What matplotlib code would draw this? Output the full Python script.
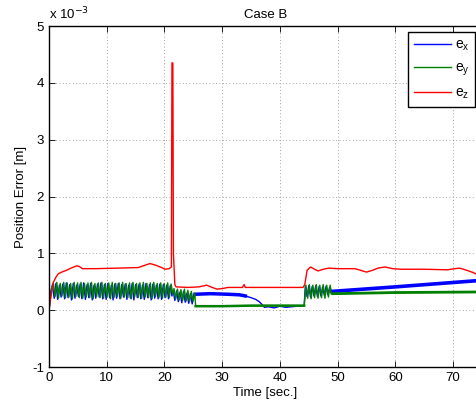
import numpy as np
import matplotlib
matplotlib.use('Agg')
import matplotlib.pyplot as plt
from matplotlib.ticker import FuncFormatter

# values are in units of 1e-3 m
ex_t_start = [0.0, 0.3]
ex_v_start = [0.0, 0.32]
ex_osc1 = [0.45, 0.21, 0.47, 0.19, 0.44, 0.23, 0.46, 0.20, 0.48, 0.22,
           0.45, 0.18, 0.47, 0.21, 0.44, 0.24, 0.46, 0.20, 0.48, 0.19,
           0.45, 0.22, 0.47, 0.18, 0.44, 0.21, 0.46, 0.23, 0.48, 0.20,
           0.45, 0.19, 0.47, 0.22, 0.44, 0.18, 0.46, 0.21, 0.47, 0.20,
           0.45, 0.23, 0.46, 0.19, 0.44, 0.21, 0.47, 0.18, 0.45, 0.22,
           0.46, 0.20, 0.44, 0.19, 0.47, 0.22, 0.45, 0.18, 0.46, 0.21,
           0.44, 0.20, 0.46, 0.19, 0.45, 0.22, 0.44, 0.20, 0.43, 0.25]
ex_osc2 = [0.35, 0.17, 0.34, 0.15, 0.32, 0.13, 0.33, 0.14, 0.30, 0.12,
           0.29, 0.11, 0.28]
ex_t_mid = [25.3, 28.0, 31.0, 33.0, 34.0, 35.0, 35.8, 36.4, 36.9, 37.3,
            38.0, 39.0, 40.0, 41.0, 42.0, 43.0, 44.2]
ex_v_mid = [0.28, 0.29, 0.28, 0.27, 0.25, 0.22, 0.19, 0.15, 0.10, 0.05,
            0.06, 0.04, 0.07, 0.05, 0.06, 0.07, 0.08]
ex_osc3 = [0.42, 0.24, 0.43, 0.23, 0.42, 0.25, 0.43, 0.24, 0.42, 0.25,
           0.41, 0.26, 0.42, 0.27, 0.40]
ex_t_end = [49.0, 60.0, 74.3]
ex_v_end = [0.33, 0.41, 0.52]

ey_t_start = [0.0, 0.45]
ey_v_start = [0.0, 0.38]
ey_osc1 = [0.48, 0.24, 0.49, 0.21, 0.47, 0.25, 0.49, 0.22, 0.48, 0.23,
           0.47, 0.20, 0.49, 0.24, 0.48, 0.22, 0.49, 0.21, 0.47, 0.23,
           0.48, 0.22, 0.49, 0.20, 0.47, 0.24, 0.48, 0.22, 0.49, 0.21,
           0.47, 0.23, 0.48, 0.20, 0.49, 0.22, 0.47, 0.24, 0.48, 0.21,
           0.49, 0.23, 0.47, 0.22, 0.48, 0.20, 0.49, 0.24, 0.47, 0.22,
           0.48, 0.21, 0.49, 0.23, 0.47, 0.22, 0.48, 0.20, 0.49, 0.24,
           0.47, 0.22, 0.48, 0.21, 0.47, 0.23, 0.48, 0.22, 0.46, 0.28]
ey_osc2 = [0.38, 0.20, 0.37, 0.18, 0.36, 0.17, 0.37, 0.16, 0.35, 0.15,
           0.33, 0.16, 0.30]
ey_t_mid = [25.4, 30.0, 35.0, 40.0, 44.2]
ey_v_mid = [0.07, 0.07, 0.08, 0.08, 0.08]
ey_osc3 = [0.44, 0.21, 0.45, 0.20, 0.44, 0.22, 0.45, 0.21, 0.44, 0.22,
           0.45, 0.21, 0.44, 0.23, 0.44]
ey_t_end = [48.9, 49.2, 60.0, 74.3]
ey_v_end = [0.28, 0.29, 0.31, 0.32]

ez_t = [0.0, 0.3, 0.75, 1.2, 1.6, 2.2, 3.0, 3.8, 4.8, 5.2, 5.8, 8.0, 12.0,
        15.5, 16.3, 17.5, 18.5, 19.5, 20.1, 20.8, 21.2, 21.3, 21.45, 21.55,
        21.8, 22.0, 24.0, 26.0, 27.3, 28.0, 29.1, 30.0, 31.0, 33.5, 33.8,
        34.0, 36.0, 40.0, 44.0, 44.3, 44.7, 45.3, 46.0, 46.6, 47.5, 48.5,
        50.0, 53.0, 54.0, 55.0, 56.0, 57.0, 58.2, 59.5, 61.0, 65.0, 69.0,
        70.3, 71.1, 71.8, 72.7, 73.5, 74.3]
ez_v = [0.0, 0.22, 0.49, 0.58, 0.64, 0.67, 0.70, 0.74, 0.78, 0.77, 0.73,
        0.73, 0.74, 0.75, 0.78, 0.82, 0.79, 0.75, 0.72, 0.73, 0.76, 4.35,
        4.35, 1.0, 0.45, 0.41, 0.40, 0.41, 0.44, 0.41, 0.37, 0.38, 0.40,
        0.40, 0.45, 0.40, 0.40, 0.40, 0.40, 0.45, 0.70, 0.76, 0.72, 0.69,
        0.72, 0.74, 0.73, 0.73, 0.70, 0.67, 0.70, 0.74, 0.76, 0.73, 0.72,
        0.72, 0.71, 0.73, 0.74, 0.72, 0.69, 0.66, 0.62]

# sample grids of the oscillating stretches
t_osc1_x = np.arange(0.6, 21.35, 0.3)
t_osc1_y = t_osc1_x + 0.15
t_osc2_x = np.arange(21.5, 25.15, 0.3)
t_osc2_y = t_osc2_x + 0.15
t_osc3_x = np.arange(44.4, 48.85, 0.3)
t_osc3_y = t_osc3_x + 0.1

ex_t = np.concatenate([ex_t_start, t_osc1_x, t_osc2_x, ex_t_mid, t_osc3_x, ex_t_end])
ex_v = np.concatenate([ex_v_start, ex_osc1, ex_osc2, ex_v_mid, ex_osc3, ex_v_end])
ey_t = np.concatenate([ey_t_start, t_osc1_y, t_osc2_y, ey_t_mid, t_osc3_y, ey_t_end])
ey_v = np.concatenate([ey_v_start, ey_osc1, ey_osc2, ey_v_mid, ey_osc3, ey_v_end])

scale = 1e-3
blue = '#0000ff'
green = '#007f00'
red = '#ff0000'

plt.rcParams['font.family'] = ['Liberation Sans', 'DejaVu Sans']
plt.rcParams['font.size'] = 9.5

fig = plt.figure(figsize=(4.77, 4.07), dpi=100)
ax = fig.add_axes([49 / 477, 40 / 407, 433 / 477, 341 / 407])

ax.plot(ex_t, ex_v * scale, color=blue, lw=1.0, label='e$_\\mathregular{x}$')
ax.plot(ex_t_end, np.array(ex_v_end) * scale, color=blue, lw=2.6)
ax.plot(ex_t_mid[:5], np.array(ex_v_mid[:5]) * scale, color=blue, lw=2.5)
ax.plot(ey_t, ey_v * scale, color=green, lw=1.0, label='e$_\\mathregular{y}$')
ax.plot(ey_t_end[1:], np.array(ey_v_end[1:]) * scale, color=green, lw=2.0)
ax.plot(ey_t_mid, np.array(ey_v_mid) * scale, color=green, lw=1.8)
ax.plot(ez_t, np.array(ez_v) * scale, color=red, lw=1.0, label='e$_\\mathregular{z}$')

ax.set_xlim(0, 75)
ax.set_ylim(-1e-3, 5e-3)
ax.set_xticks(np.arange(0, 80, 10))
ax.set_yticks(np.arange(-1, 6) * scale)
ax.yaxis.set_major_formatter(FuncFormatter(lambda v, p: '%g' % round(v / scale, 6)))
ax.tick_params(direction='in', top=True, right=True, length=4, width=0.6, labelsize=9.5)
ax.grid(True, ls=(0, (1, 3)), color='#888888', lw=0.6)
for s in ax.spines.values():
    s.set_linewidth(1.0)

ax.set_title('Case B', fontsize=9.5, pad=6)
ax.set_xlabel('Time [sec.]', fontsize=9.5, labelpad=2)
ax.set_ylabel('Position Error [m]', fontsize=9.5, labelpad=4)
ax.text(0.0, 1.01, 'x 10$^{-3}$', transform=ax.transAxes, fontsize=9.5,
        ha='left', va='bottom')

leg = ax.legend(loc='upper left', bbox_to_anchor=(408 / 477, 1 - 32 / 407),
                bbox_transform=fig.transFigure, fancybox=False, framealpha=1,
                edgecolor='black', handlelength=2.7, borderpad=0.4,
                borderaxespad=0, labelspacing=0.55, handletextpad=0.3,
                fontsize=10)
leg.get_frame().set_linewidth(1.0)

fig.savefig('out.png', dpi=100)
